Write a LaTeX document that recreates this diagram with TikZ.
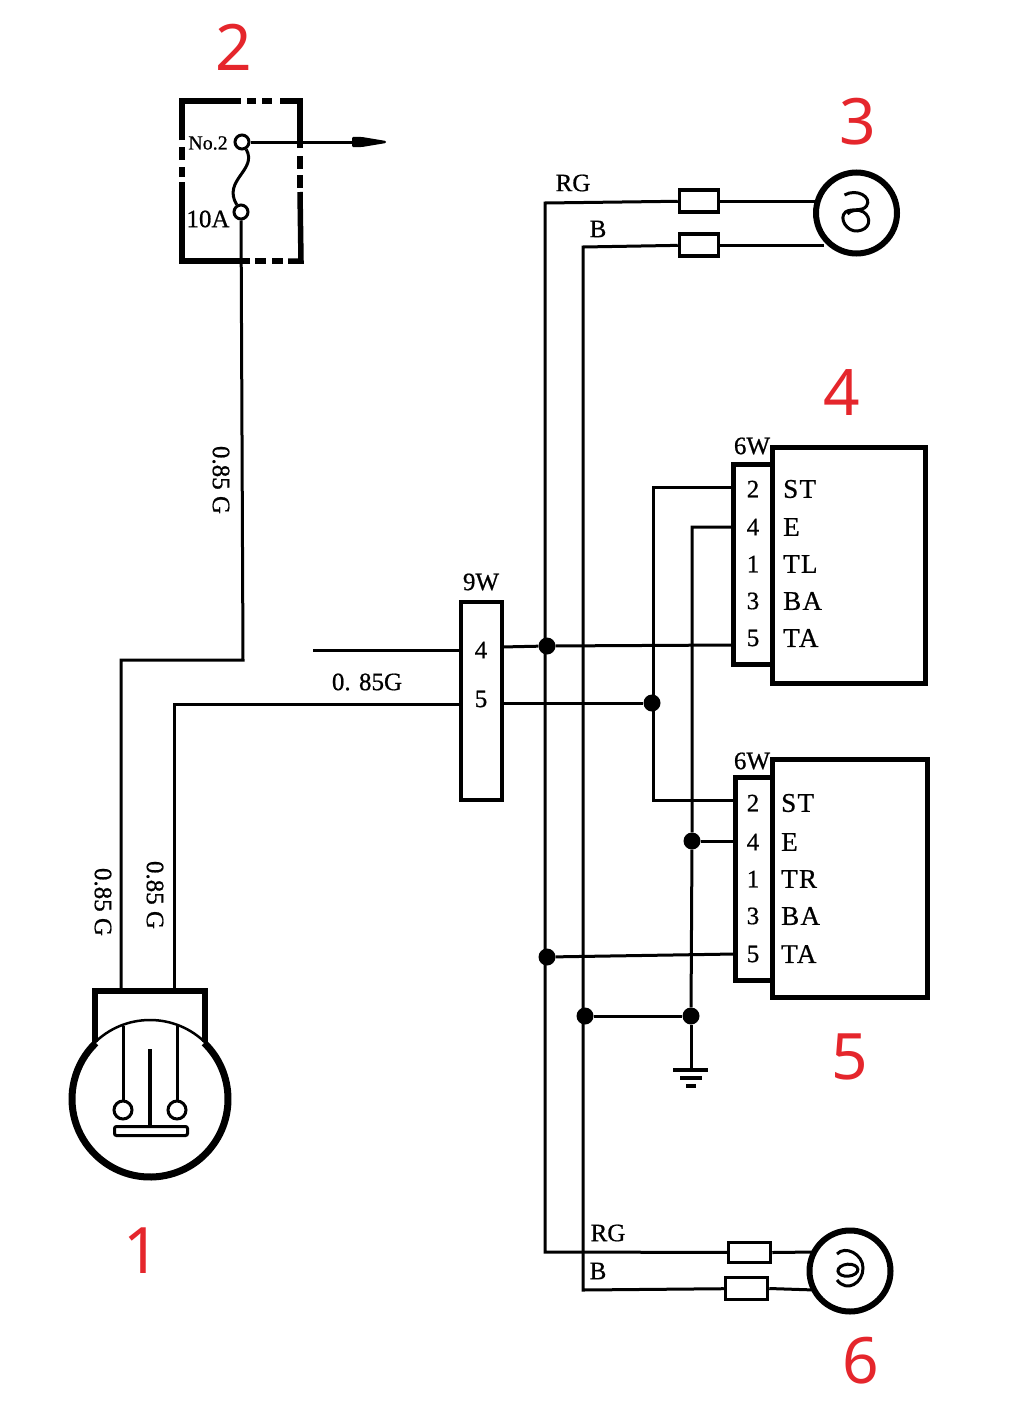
\documentclass[tikz,border=0pt]{standalone}
\usepackage{fontspec}
\setmainfont[FakeBold=0.7]{Liberation Serif}
\newfontfamily\digitfont{Noto Sans}
\definecolor{markred}{HTML}{E5262C}
\tikzset{
	wire/.style={line width=3pt},
	thickbox/.style={line width=5.5pt},
	dot/.style={circle,fill=black,inner sep=0pt,minimum size=17pt},
	ring/.style={circle,draw,line width=3pt,fill=white,inner sep=0pt,minimum size=14pt},
	plug/.style={draw,line width=3.5pt,fill=white,inner sep=0pt,minimum width=39pt,minimum height=22pt},
	conn/.style={draw,line width=4pt,fill=white,inner sep=0pt},
	unit/.style={draw,line width=5pt,inner sep=0pt},
	lamp/.style={circle,draw,line width=6pt,inner sep=0pt,minimum size=81pt},
	lbl/.style={inner sep=0pt,font=\fontsize{25}{28}\selectfont},
	tag/.style={inner sep=0pt,anchor=west,font=\fontsize{27}{30}\selectfont\addfontfeature{LetterSpace=5}},
	redmark/.style={inner sep=0pt,text=markred,font=\digitfont\fontsize{64}{70}\selectfont}
}
\begin{document}
\begin{tikzpicture}[x=1pt,y=-1pt]
	\useasboundingbox (0,0) rectangle (1017,1410);
	\fill[white] (0,0) rectangle (1017,1410);

	% fuse box
	\draw[thickbox] (182,140)--(182,101)--(241,101);
	\draw[thickbox] (280,101)--(300,101)--(300,148);
	\draw[thickbox] (300,192)--(301,261)--(288,261);
	\draw[thickbox] (250,261)--(182,261)--(182,182);
	\foreach \ya/\yb in {147/160,167/177}{
		\draw[thickbox] (182,\ya)--(182,\yb);
	}
	\foreach \ya/\yb in {156/169,175/188}{
		\draw[thickbox] (300,\ya)--(300,\yb);
	}
	\foreach \xa/\xb in {247/256,262/272}{
		\draw[thickbox] (\xa,101)--(\xb,101);
	}
	\foreach \xa/\xb in {255/266,272/283}{
		\draw[thickbox] (\xa,261)--(\xb,261);
	}
	\node[ring] (fuseTop) at (242,142) {};
	\node[ring] (fuseBot) at (241,212) {};
	\coordinate (fuseOut) at (352,142);
	\draw[wire] (fuseTop)--(fuseOut);
	\fill[rounded corners=1pt] (fuseOut)++(0,-5) -- ++(10,0) -- (386,141) -- (386,143) -- (362,147) -- (352,147) -- cycle;
	\draw[wire] (fuseTop) .. controls (258,170) and (222,180) .. (fuseBot);
	\node[lbl,font=\fontsize{20}{22}\selectfont] (labNo) at (208,143) {No.2};
	\node[lbl] (labAmp) at (208,219) {10A};

	% bulb 1
	\coordinate (bulb) at (150,1099);
	\draw[line width=2.5pt] (bulb) circle [radius=79];
	\draw[line width=7pt] (bulb)++(-46:78) arc [start angle=-46,end angle=226,radius=78];
	\draw[line width=5.5pt] (95,1042)--(95,991)--(205,991)--(205,1042);
	\node[ring,minimum size=18pt] (ringL) at (123,1110) {};
	\node[ring,minimum size=18pt] (ringR) at (177,1110) {};
	\coordinate (arcL) at (123,1026);
	\coordinate (arcR) at (177,1026);
	\draw[wire] (arcL)--(ringL);
	\draw[wire] (arcR)--(ringR);
	\draw[line width=3.5pt] (150,1049)--(150,1128);
	\node[draw,line width=3pt,rounded corners=2pt,minimum width=73pt,minimum height=9pt,inner sep=0pt] (bar) at (151,1131) {};

	% 9W connector
	\node[conn,minimum width=41pt,minimum height=198pt] (conn9) at (481,701) {};
	\node[lbl] (pin9a) at (481,650) {4};
	\node[lbl] (pin9b) at (481,699) {5};
	\node[lbl] (lab9W) at (481,582) {9W};
	\coordinate (stubL) at (313,650);
	\draw[wire] (stubL)--(460,650);
	\draw[wire] (fuseBot)--(243,660)--(121,660)--(121,990);
	\draw[wire] (174,990)--(174,704)--(460,704);

	% units
	\node[unit,minimum width=153pt,minimum height=236pt] (unitA) at (848.5,565) {};
	\node[unit,minimum width=155pt,minimum height=238pt] (unitB) at (849.5,878) {};
	\node[unit,minimum width=39pt,minimum height=200pt] (connA) at (753,564) {};
	\node[unit,minimum width=37pt,minimum height=203pt] (connB) at (753.5,878.5) {};
	\node[lbl] (lab6a) at (752,446) {6W};
	\node[lbl] (lab6b) at (752,761) {6W};
	\foreach \nm/\num/\txt/\yy in {a/2/ST/489,b/4/E/527,c/1/TL/564,d/3/BA/601,e/5/TA/638}{
		\node[lbl] (numA\nm) at (753,\yy) {\num};
		\node[tag] (txtA\nm) at (783,\yy) {\txt};
	}
	\foreach \nm/\num/\txt/\yy in {a/2/ST/803,b/4/E/842,c/1/TR/879,d/3/BA/916,e/5/TA/954}{
		\node[lbl] (numB\nm) at (753,\yy) {\num};
		\node[tag] (txtB\nm) at (781,\yy) {\txt};
	}

	% lamps
	\node[lamp] (lampTop) at (856.5,213) {};
	\node[lamp] (lampBot) at (850,1271) {};
	\node[plug] (plugTa) at (699,201) {};
	\node[plug] (plugTb) at (699,245) {};
	\node[plug,minimum width=42pt,minimum height=20pt] (plugBa) at (749.5,1252.5) {};
	\node[plug,minimum width=42pt,minimum height=22pt] (plugBb) at (746.5,1288.5) {};
	\coordinate (busR) at (545,203);
	\coordinate (busB) at (583,247);
	\coordinate (busRend) at (545,1252);
	\coordinate (busBend) at (583,1290);
	\draw[wire] (plugTa)--(busR)--(busRend)--(plugBa);
	\draw[wire] (plugTb)--(busB)--(busBend)--(plugBb);
	\draw[wire] (plugTa.east)--(816,201);
	\draw[wire] (plugTb.east)--(824,245);
	\draw[wire] (plugBa.east)--(815,1252);
	\draw[wire] (plugBb.east)--(815,1290);
	\draw[line width=3pt,shift={(lampTop)}] (-12,-18) .. controls (0,-25) and (16,-16) .. (10,-7) .. controls (6,-1) and (-6,-5) .. (-11,-1) .. controls (-18,5) and (-10,19) .. (1,18) .. controls (13,17) and (16,5) .. (7,-1) .. controls (2,-4) and (-6,-3) .. (-9,1);
	\draw[line width=3pt,shift={(lampBot)}] (-13,-17) .. controls (-5,-26) and (13,-17) .. (13,-3) .. controls (13,12) and (-3,22) .. (-13,9);
	\draw[line width=3pt,shift={(lampBot)},rotate=5] (-2,-1) ellipse [x radius=10,y radius=6];
	\node[lbl] (labRGa) at (573,183) {RG};
	\node[lbl] (labBa) at (598,229) {B};
	\node[lbl] (labRGb) at (608,1233) {RG};
	\node[lbl] (labBb) at (598,1271) {B};

	% harness
	\node[dot] (jA) at (547,646) {};
	\node[dot] (jB) at (652,703) {};
	\node[dot] (jC) at (692,841) {};
	\node[dot] (jD) at (547,957) {};
	\node[dot] (jE) at (585,1016) {};
	\node[dot] (jF) at (691,1016) {};
	\draw[wire] (501,647)--(jA)--(734,645);
	\draw[wire] (501,703)--(jB);
	\draw[wire] (735,487)--(653,487)--(653,800)--(735,800);
	\draw[wire] (735,527)--(692,527)--(jC)--(jF);
	\draw[wire] (jC)--(735,841);
	\draw[wire] (jD)--(735,954);
	\draw[wire] (jE)--(jF);
	\coordinate (gnd) at (691,1070);
	\draw[wire] (jF)--(gnd);
	\draw[line width=4pt] (673,1070)--(708,1070);
	\draw[line width=4pt] (680,1078)--(702,1078);
	\draw[line width=4pt] (686,1086)--(696,1086);

	% wire gauges
	\node[lbl,rotate=-90] (gaugeA) at (221,480) {0.85 G};
	\node[lbl,rotate=-90] (gaugeB) at (103,902) {0.85 G};
	\node[lbl,rotate=-90] (gaugeC) at (155,895) {0.85 G};
	\node[lbl] (gaugeD) at (367,682) {0. 85G};

	% numbers
	\node[redmark] (m1) at (142,1251) {1};
	\node[redmark] (m2) at (234,47) {2};
	\node[redmark] (m3) at (858,122) {3};
	\node[redmark] (m4) at (842,393) {4};
	\node[redmark] (m5) at (850,1057) {5};
	\node[redmark] (m6) at (861,1361) {6};
\end{tikzpicture}
\end{document}
